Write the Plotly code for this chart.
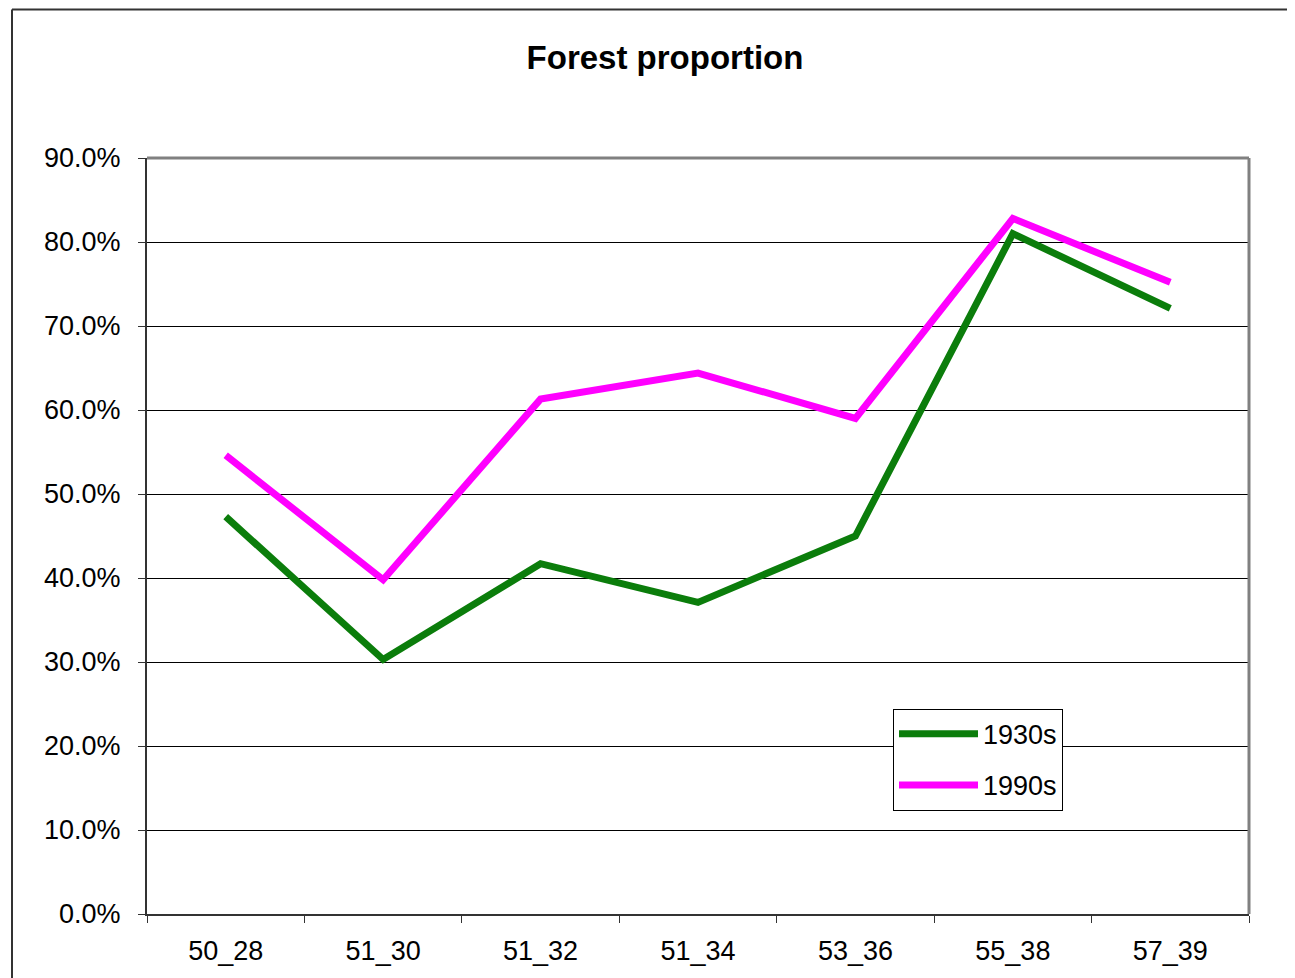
import plotly.graph_objects as go

categories = ["50_28", "51_30", "51_32", "51_34", "53_36", "55_38", "57_39"]
forest_1930s = [0.473, 0.303, 0.417, 0.371, 0.450, 0.810, 0.721]
forest_1990s = [0.546, 0.398, 0.613, 0.644, 0.590, 0.828, 0.752]
y_ticks = [0.0, 0.1, 0.2, 0.3, 0.4, 0.5, 0.6, 0.7, 0.8, 0.9]

# page body has an 8px margin: work in screen pixels and subtract it
OFF = 8
W, H = 1295 - OFF, 978 - OFF
L, T = 147 - OFF, 158 - OFF
R = W - (1249 - OFF)
B = H - (917 - OFF)
pw, ph = W - L - R, H - T - B

FONT = "Liberation Sans, Arial, sans-serif"

fig = go.Figure()
fig.add_trace(go.Scatter(x=categories, y=forest_1930s, mode="lines", name="1930s",
                         legendgroup="a",
                         line=dict(color="#0b7d0b", width=7)))
fig.add_trace(go.Scatter(x=categories, y=forest_1990s, mode="lines", name="1990s",
                         legendgroup="b",
                         line=dict(color="#ff00ff", width=7)))

def px_x(x):
    # screen x -> paper
    return (x - OFF - L) / pw

def px_y(y):
    # screen y -> paper
    return (H - B - (y - OFF)) / ph

shapes = [
    # outer chart border (top and left visible)
    dict(type="line", xref="paper", yref="paper", x0=px_x(12), x1=px_x(1300), y0=px_y(9), y1=px_y(9),
         line=dict(color="#333333", width=2)),
    dict(type="line", xref="paper", yref="paper", x0=px_x(12), x1=px_x(12), y0=px_y(9), y1=px_y(985),
         line=dict(color="#333333", width=2)),
    # plot area border top and right
    dict(type="line", xref="paper", yref="paper", x0=0, x1=1, y0=1, y1=1,
         line=dict(color="#808080", width=3)),
    dict(type="line", xref="paper", yref="paper", x0=1, x1=1, y0=0, y1=1,
         line=dict(color="#808080", width=3)),
]

fig.update_layout(
    width=W, height=H,
    margin=dict(l=L, r=R, t=T, b=B),
    paper_bgcolor="white", plot_bgcolor="white",
    font=dict(family=FONT, size=27, color="black"),
    title=dict(text="<b>Forest proportion</b>", x=(665 - OFF) / W, xanchor="center",
               y=1 - (57 - OFF) / H, yanchor="middle", font=dict(family=FONT, size=33, color="black")),
    shapes=shapes,
    showlegend=True,
    legend=dict(x=px_x(893), y=px_y(711), xanchor="left", yanchor="top",
                bgcolor="white", bordercolor="black", borderwidth=1,
                font=dict(family=FONT, size=27, color="black"),
                itemwidth=79, tracegroupgap=13),
    xaxis=dict(type="category", range=[-0.5, 6.5], showgrid=False,
               showline=True, linecolor="#333333", linewidth=2,
               ticks="outside", tickson="boundaries", ticklen=7, tickcolor="#333333",
               ticklabelstandoff=12,
               tickfont=dict(family=FONT, size=27, color="black"), fixedrange=True),
    yaxis=dict(range=[0, 0.9], tickvals=y_ticks, tickformat=".1%",
               showgrid=True, gridcolor="black", gridwidth=1,
               showline=True, linecolor="#333333", linewidth=2,
               ticks="outside", ticklen=7, tickcolor="#333333", zeroline=False,
               ticklabelstandoff=12,
               tickfont=dict(family=FONT, size=27, color="black"), fixedrange=True),
)

fig.write_html("out.html")
